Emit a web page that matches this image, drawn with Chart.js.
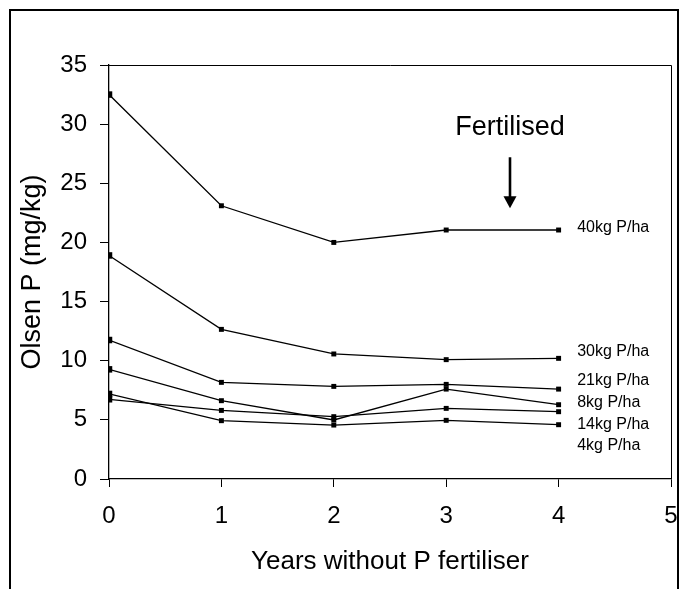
<!DOCTYPE html>
<html><head><meta charset="utf-8">
<script src="https://cdn.jsdelivr.net/npm/chart.js@4.4.1/dist/chart.umd.min.js"></script>
<style>html,body{margin:0;padding:0;background:#fff}#wrap{width:681px;height:589px;position:relative}</style>
</head><body><div id="wrap"><canvas id="c" width="681" height="589"></canvas></div>
<script>
// ---- data ----
const years = [0, 1, 2, 3, 4];
const p40 = [32.5, 23.1, 20.0, 21.05, 21.05];
const p30 = [18.9, 12.65, 10.57, 10.09, 10.2];
const p21 = [11.75, 8.17, 7.83, 8.0, 7.6];
const p8  = [9.27, 6.62, 4.99, 7.6, 6.28];
const p14 = [6.74, 5.8, 5.27, 5.97, 5.69];
const p4  = [7.19, 4.93, 4.56, 4.96, 4.59];
const seriesNames = ['40kg P/ha', '30kg P/ha', '21kg P/ha', '8kg P/ha', '14kg P/ha', '4kg P/ha'];
const seriesValues = [p40, p30, p21, p8, p14, p4];
// label anchors in data units (x = years, y = mg/kg)
const labelX = 4.165;
const labelY = [21.26, 10.76, 8.28, 6.45, 4.56, 2.79];
const xTicks = [0, 1, 2, 3, 4, 5];
const yTicks = [0, 5, 10, 15, 20, 25, 30, 35];
const noteText = 'Fertilised';
const noteX = 3.568, noteTextY = 29.7, arrowFrom = 27.2, arrowTo = 22.9;

const FONT = '"Liberation Sans", Arial, Helvetica, sans-serif';

const decor = {
  id: 'decor',
  beforeDraw(chart) {
    const ctx = chart.ctx;
    ctx.save();
    ctx.fillStyle = '#fff';
    ctx.fillRect(0, 0, chart.width, chart.height);
    ctx.restore();
  },
  afterDraw(chart) {
    const {ctx, chartArea: a, scales: {x, y}} = chart;
    ctx.save();
    ctx.strokeStyle = '#000';
    ctx.lineWidth = 1;
    ctx.beginPath();
    ctx.moveTo(a.left, a.top + 0.5);
    ctx.lineTo(a.right + 0.5, a.top + 0.5);
    ctx.lineTo(a.right + 0.5, a.bottom);
    ctx.stroke();
    // outer frame
    ctx.lineWidth = 2;
    ctx.strokeRect(10, 10, 668, 620);
    // series labels
    ctx.fillStyle = '#000';
    ctx.font = '16px ' + FONT;
    ctx.textAlign = 'left';
    ctx.textBaseline = 'middle';
    seriesNames.forEach((n, i) => {
      ctx.fillText(n, x.getPixelForValue(labelX), y.getPixelForValue(labelY[i]));
    });
    // note + arrow
    const xp = Math.round(x.getPixelForValue(noteX));
    ctx.font = '27px ' + FONT;
    ctx.textAlign = 'center';
    ctx.fillText(noteText, xp, y.getPixelForValue(noteTextY));
    const top = y.getPixelForValue(arrowFrom), tip = y.getPixelForValue(arrowTo);
    ctx.lineWidth = 2.6;
    ctx.beginPath();
    ctx.moveTo(xp, top);
    ctx.lineTo(xp, tip - 10);
    ctx.stroke();
    ctx.beginPath();
    ctx.moveTo(xp - 6.5, tip - 12);
    ctx.lineTo(xp + 6.5, tip - 12);
    ctx.lineTo(xp, tip);
    ctx.closePath();
    ctx.fill();
    ctx.restore();
  }
};

const datasets = seriesValues.map((vals, i) => ({
  label: seriesNames[i],
  data: years.map((yr, j) => ({x: yr, y: vals[j]})),
  borderColor: '#000',
  backgroundColor: '#000',
  borderWidth: 1.3,
  pointStyle: 'rect',
  pointRadius: ctx => ctx.dataIndex === 0 ? 4.6 : 3.5,
  pointBorderWidth: 0,
  pointBackgroundColor: '#000',
  tension: 0,
  fill: false
}));

new Chart(document.getElementById('c'), {
  type: 'line',
  data: {datasets},
  plugins: [decor],
  options: {
    responsive: false,
    animation: false,
    devicePixelRatio: 1,
    layout: {padding: {top: 65, right: 10, bottom: 0, left: 0}},
    plugins: {legend: {display: false}, tooltip: {enabled: false}},
    scales: {
      x: {
        type: 'linear', min: 0, max: 5,
        afterBuildTicks: s => { s.ticks = xTicks.map(v => ({value: v})); },
        afterFit: s => { s.height = 110; s.paddingLeft = 0; s.paddingRight = 0; },
        ticks: {color: '#000', font: {family: FONT, size: 24}, padding: 15, maxRotation: 0},
        grid: {display: true, drawOnChartArea: false, drawTicks: true, tickLength: 8, color: '#000', lineWidth: 1},
        border: {display: true, color: '#000', width: 1.3},
        title: {display: true, text: 'Years without P fertiliser', color: '#000', font: {family: FONT, size: 26}, padding: {top: 0, bottom: 12}}
      },
      y: {
        type: 'linear', min: 0, max: 35,
        afterBuildTicks: s => { s.ticks = yTicks.map(v => ({value: v})); },
        afterFit: s => { s.width = 109; s.paddingTop = 0; s.paddingBottom = 0; },
        ticks: {color: '#000', font: {family: FONT, size: 24}, padding: 13},
        grid: {display: true, drawOnChartArea: false, drawTicks: true, tickLength: 9, color: '#000', lineWidth: 1},
        border: {display: true, color: '#000', width: 1.3},
        title: {display: true, text: 'Olsen P (mg/kg)', color: '#000', font: {family: FONT, size: 27}, padding: {top: 16, bottom: 0}}
      }
    }
  }
});
</script>
</body></html>
